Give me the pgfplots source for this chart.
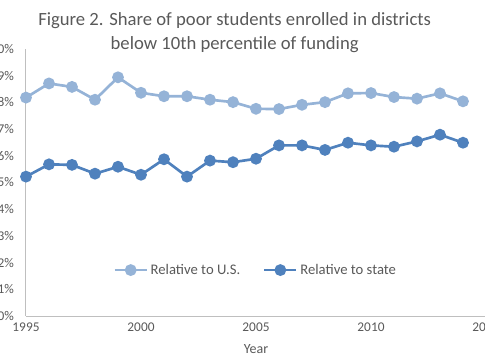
\documentclass[border=0pt]{standalone}
\usepackage{pgfplots}
\pgfplotsset{compat=1.18}
\usepackage{fontspec}
\setmainfont{Carlito}
\definecolor{lightser}{HTML}{95B3D7}
\definecolor{darkser}{HTML}{4F81BD}
\definecolor{txtgray}{HTML}{595959}
\definecolor{axgray}{HTML}{BFBFBF}
\begin{document}
\begin{tikzpicture}
\useasboundingbox (0,0) rectangle (363.75pt,270pt);
\begin{axis}[
  at={(19.5pt,33pt)}, anchor=south west,
  scale only axis, width=345pt, height=200.25pt,
  xmin=1995, xmax=2015, ymin=0, ymax=10,
  axis x line=bottom, axis y line=left,
  axis line style={-, draw=axgray, line width=0.75pt},
  major tick length=0pt,
  xtick={1995,2000,2005,2010,2015},
  ytick={0,1,...,10},
  yticklabel={\pgfmathprintnumber{\tick}\%},
  /pgf/number format/assume math mode=true,
  /pgf/number format/set thousands separator={},
  ticklabel style={font=\fontsize{10}{12}\selectfont, text=txtgray},
  yticklabel style={anchor=east, xshift=-5.5pt},
  xticklabel style={anchor=north, yshift=-1.5pt},
  xlabel={Year},
  xlabel style={at={(axis description cs:0.5,0)}, anchor=center, yshift=-25pt, font=\fontsize{10.5}{12}\selectfont, text=txtgray},
  legend style={at={(0.5,0.172)}, anchor=center, draw=none, fill=none,
    legend columns=2, font=\fontsize{11}{13}\selectfont, text=txtgray,
    /tikz/every even column/.append style={column sep=15pt},
    inner sep=0pt, cells={anchor=west}},
  legend image code/.code={\draw[mark repeat=2,mark phase=2] plot coordinates {(0pt,0pt)(12pt,0pt)(24pt,0pt)};},
  every axis plot/.append style={line width=2pt, mark=*, mark size=3.4pt, mark options={line width=0pt}},
]
\addplot[color=lightser, mark options={fill=lightser, draw=lightser}] coordinates {
(1995,8.18)(1996,8.71)(1997,8.58)(1998,8.10)(1999,8.94)(2000,8.36)(2001,8.23)(2002,8.23)(2003,8.10)(2004,8.01)
(2005,7.76)(2006,7.75)(2007,7.91)(2008,8.01)(2009,8.34)(2010,8.35)(2011,8.20)(2012,8.14)(2013,8.34)(2014,8.04)};
\addlegendentry{Relative to U.S.}
\addplot[color=darkser, mark options={fill=darkser, draw=darkser}] coordinates {
(1995,5.22)(1996,5.68)(1997,5.66)(1998,5.33)(1999,5.59)(2000,5.29)(2001,5.87)(2002,5.22)(2003,5.82)(2004,5.76)
(2005,5.89)(2006,6.39)(2007,6.39)(2008,6.22)(2009,6.49)(2010,6.39)(2011,6.34)(2012,6.54)(2013,6.79)(2014,6.49)};
\addlegendentry{Relative to state}
\end{axis}
\node[align=center, text=txtgray, font=\fontsize{14}{18}\selectfont] at (176pt,245.5pt) {Figure 2. Share of poor students enrolled in districts\\below 10th percentile of funding};
\end{tikzpicture}
\end{document}
